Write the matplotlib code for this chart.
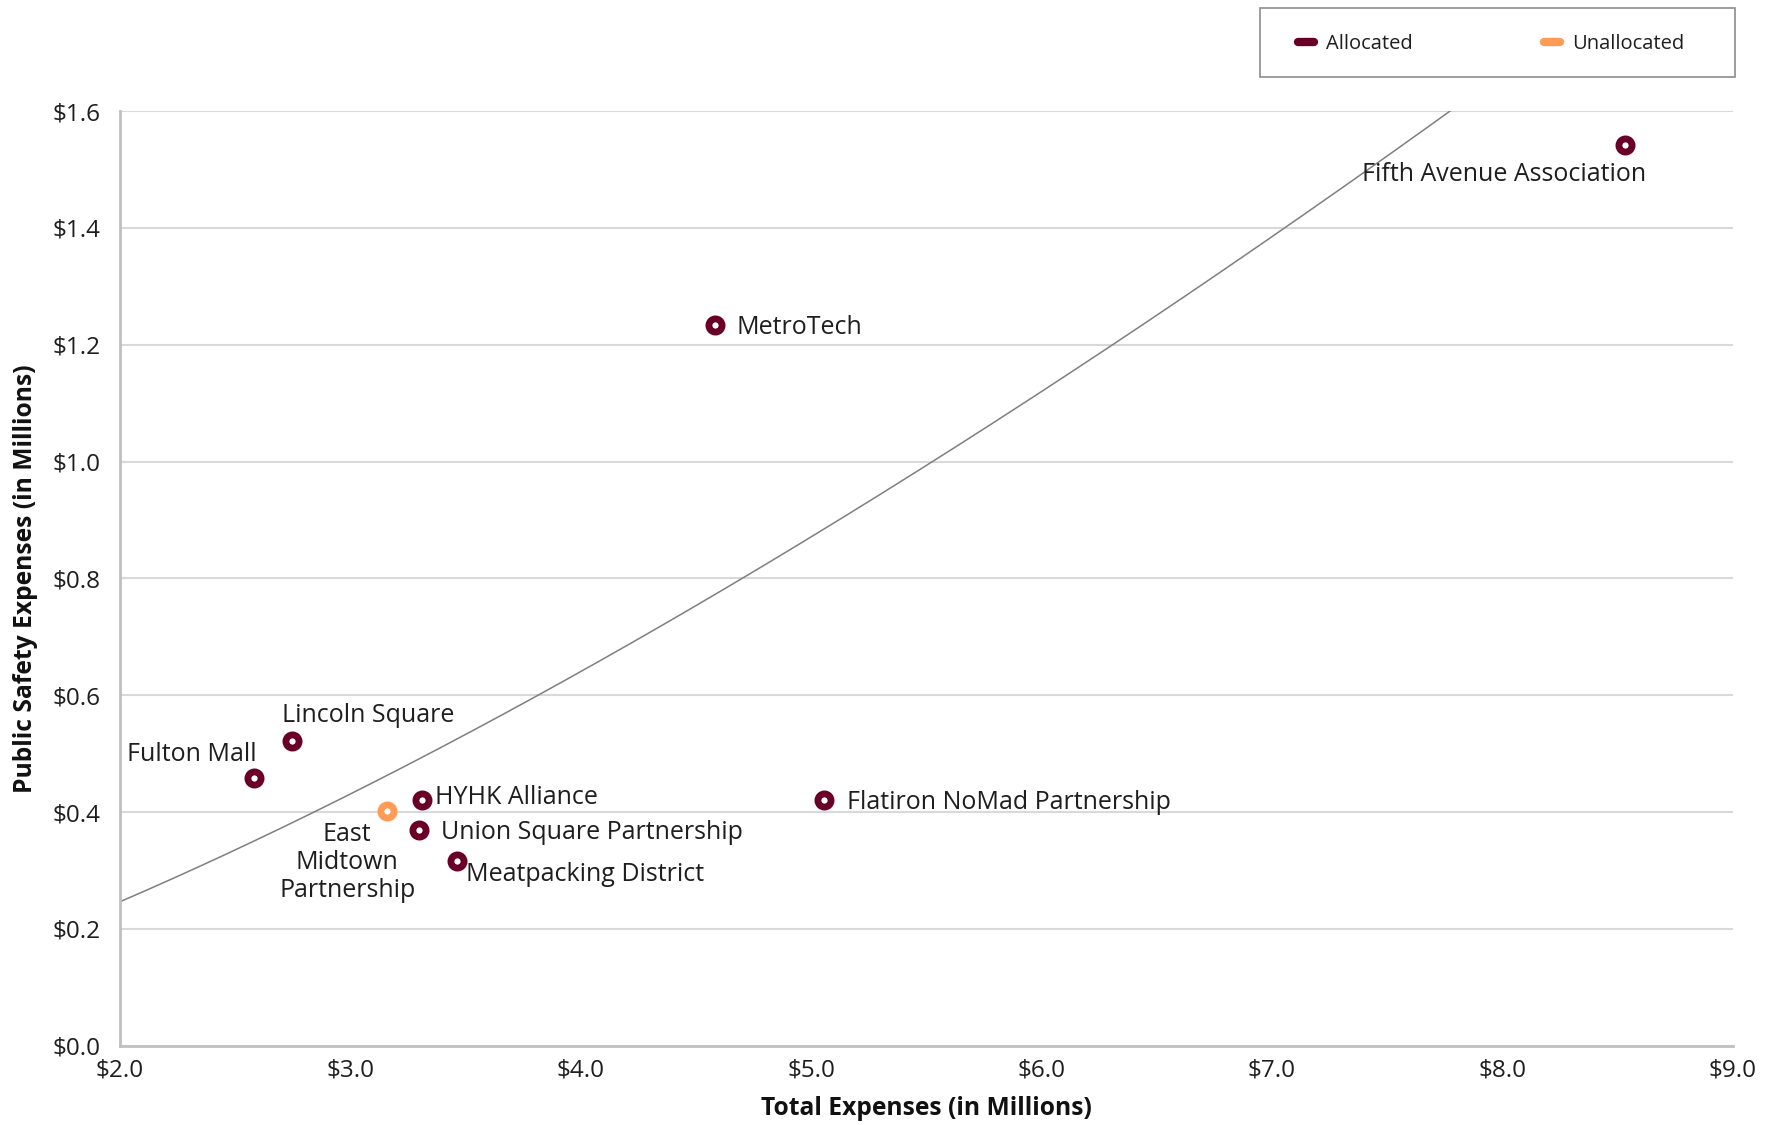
import numpy as np
import matplotlib.pyplot as plt
from matplotlib.lines import Line2D
from matplotlib.patches import Rectangle

plt.rcParams['font.family'] = ['Open Sans', 'DejaVu Sans']

# BIDs: total expenses vs public safety expenses (millions)
names = ['Fulton Mall', 'Lincoln Square', 'East\nMidtown\nPartnership', 'HYHK Alliance',
         'Union Square Partnership', 'Meatpacking District', 'MetroTech',
         'Flatiron NoMad Partnership', 'Fifth Avenue Association']
total = [2.583, 2.746, 3.161, 3.309, 3.299, 3.462, 4.584, 5.058, 8.534]
safety = [0.458, 0.521, 0.402, 0.421, 0.369, 0.316, 1.233, 0.420, 1.542]
status = ['Allocated', 'Allocated', 'Unallocated', 'Allocated', 'Allocated',
          'Allocated', 'Allocated', 'Allocated', 'Allocated']

# power trendline y = a * x^b
trend_a = 0.0948
trend_b = 1.378

x_ticks = [2, 3, 4, 5, 6, 7, 8, 9]
y_ticks = [0.0, 0.2, 0.4, 0.6, 0.8, 1.0, 1.2, 1.4, 1.6]

colors = {'Allocated': '#6b0027', 'Unallocated': '#ff9b55'}
txt = '#1e1e1e'

# label offsets in points and alignment
offsets = [(-45, 17, 'center'), (55, 18.5, 'center'), (-29, -37, 'center'), (10, 1.5, 'left'),
           (16, -1.5, 'left'), (7, -9.5, 'left'), (15.5, -1.5, 'left'), (16, -1.5, 'left'),
           (-87, -21, 'center')]

fig = plt.figure(figsize=(17.85, 11.25), dpi=100)
ax = fig.add_axes([0.0672, 0.0705, 0.9034, 0.8308])

xs = np.linspace(2, 9, 300)
ax.plot(xs, trend_a * xs ** trend_b, color='#7f7f7f', lw=1.1, zorder=2)

for i in range(len(names)):
    ax.scatter(total[i], safety[i], s=90, facecolor='white', edgecolor=colors[status[i]],
               linewidth=4.9, zorder=4)
    dx, dy, ha = offsets[i]
    ax.annotate(names[i], (total[i], safety[i]), xytext=(dx, dy), textcoords='offset points',
                ha=ha, va='center', fontsize=18, color=txt, linespacing=1.15, zorder=5)

ax.set_xlim(2, 9)
ax.set_ylim(0, 1.6)
ax.set_xticks(x_ticks)
ax.set_yticks(y_ticks)
ax.set_xticklabels(['$%.1f' % v for v in x_ticks])
ax.set_yticklabels(['$%.1f' % v for v in y_ticks])
ax.tick_params(length=0, labelsize=17.5, labelcolor=txt)
ax.tick_params(axis='y', pad=14)
ax.tick_params(axis='x', pad=9)
ax.grid(axis='y', color='#d9d9d9', lw=1.5, zorder=0)
ax.set_axisbelow(True)
for s in ['top', 'right']:
    ax.spines[s].set_visible(False)
for s in ['left', 'bottom']:
    ax.spines[s].set_color('#c0c0c0')
    ax.spines[s].set_linewidth(2)

ax.set_xlabel('Total Expenses (in Millions)', fontsize=17.7, fontweight='bold', color='#111', labelpad=10)
ax.set_ylabel('Public Safety Expenses (in Millions)', fontsize=17.7, fontweight='bold', color='#111', labelpad=10)

# legend frame drawn separately, entries placed inside it
fig.patches.append(Rectangle((0.7059, 0.9312), 0.2661, 0.0617, transform=fig.transFigure,
                             facecolor='white', edgecolor='#8c8c8c', lw=1.2, zorder=0))
handles = [Line2D([0], [0], color=colors[k], lw=6, solid_capstyle='round') for k in ['Allocated', 'Unallocated']]
fig.legend(handles, ['Allocated', 'Unallocated'], loc='center left', ncol=2,
           bbox_to_anchor=(0.7269, 0.9607), borderaxespad=0, borderpad=0, frameon=False,
           fontsize=14.5, handlelength=0.8, handletextpad=0.6, columnspacing=6.55, labelcolor=txt)

fig.savefig('out.png', dpi=100)
